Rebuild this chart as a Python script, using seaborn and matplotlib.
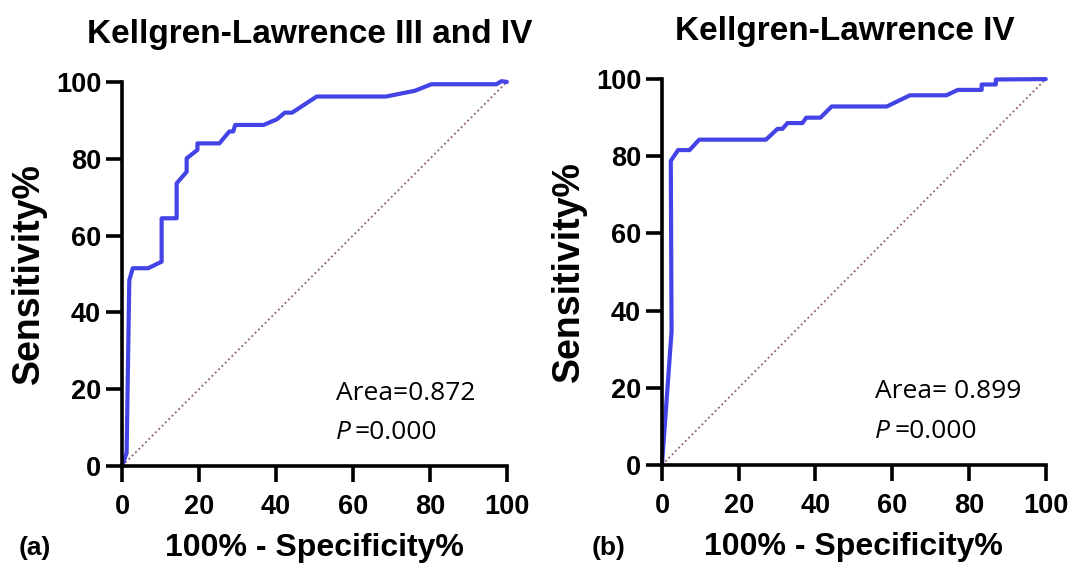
import matplotlib

matplotlib.use("Agg")

import matplotlib.pyplot as plt
import pandas as pd
import seaborn as sns

# ROC points (x = 100% - specificity, y = sensitivity)
fpr_a = [0, 1.2, 1.9, 2.8, 6.8, 10.3, 10.3, 14.2, 14.2, 16.8, 16.8, 19.6, 19.6,
         25.3, 27.9, 28.9, 29.4, 36.8, 40.3, 42.3, 44.2, 50.6, 68.6, 76.1,
         80.4, 97.3, 98.6, 100]
tpr_a = [0, 3.4, 48.4, 51.5, 51.5, 53.2, 64.5, 64.5, 73.6, 76.6, 80.1, 82.3, 84,
         84, 87.1, 87.1, 88.8, 88.8, 90.3, 92, 92, 96.2, 96.2, 97.7,
         99.4, 99.4, 100.2, 100]

fpr_b = [0, 2.5, 2.3, 4.2, 7.2, 9.7, 27.1, 30.1, 31.4, 32.7, 36.6, 37.6, 41.3,
         44.2, 58.6, 64.6, 74.1, 77.1, 83.3, 83.3, 87.0, 87.0, 100]
tpr_b = [0, 34.6, 78.8, 81.6, 81.6, 84.3, 84.3, 87.1, 87.1, 88.6, 88.6, 90, 90,
         92.9, 92.9, 95.8, 95.8, 97.2, 97.2, 98.6, 98.6, 99.9, 100]

titles = ["Kellgren-Lawrence III and IV", "Kellgren-Lawrence IV"]
areas = ["Area=0.872", "Area= 0.899"]
p_text = "=0.000"
panel_tags = ["(a)", "(b)"]
ticks = [0, 20, 40, 60, 80, 100]

LINE_BLUE = "#4343E6"
DIAG = "#8E5E72"

sns.set_style("ticks")
plt.rcParams["font.family"] = ["Liberation Sans", "DejaVu Sans"]
plt.rcParams["font.weight"] = "bold"
plt.rcParams["text.color"] = "black"
plt.rcParams["axes.labelcolor"] = "black"
plt.rcParams["xtick.color"] = "black"
plt.rcParams["ytick.color"] = "black"
plt.rcParams["axes.edgecolor"] = "black"

fig = plt.figure(figsize=(10.72, 5.69), dpi=100)
axes = [fig.add_axes([0.1138, 0.181, 0.359, 0.675]),
        fig.add_axes([0.6175, 0.183, 0.358, 0.678])]

curves = [(fpr_a, tpr_a), (fpr_b, tpr_b)]
tag_x = [0.017, 0.552]
title_x = [0.488, 0.477]
note_font = ["Open Sans", "DejaVu Sans"]

for i, ax in enumerate(axes):
    df = pd.DataFrame({"fpr": curves[i][0], "tpr": curves[i][1]})
    ax.plot([0, 100], [0, 100], linestyle=(0, (1, 1.6)), color=DIAG, linewidth=1.3)
    sns.lineplot(data=df, x="fpr", y="tpr", sort=False, estimator=None,
                 color=LINE_BLUE, linewidth=3.0, ax=ax, clip_on=False)
    ax.set_xlim(0, 100)
    ax.set_ylim(0, 100)
    ax.set_xticks(ticks)
    ax.set_yticks(ticks)
    ax.tick_params(width=2.6, length=11.5, labelsize=19.5)
    ax.tick_params(axis="x", pad=9)
    ax.tick_params(axis="y", pad=3.5)
    for lab in ax.get_xticklabels() + ax.get_yticklabels():
        lab.set_fontweight("bold")
    for side in ["left", "bottom"]:
        ax.spines[side].set_linewidth(2.6)
    sns.despine(ax=ax)
    ax.set_xlabel("100% - Specificity%", fontsize=23, fontweight="bold", labelpad=9)
    ax.set_ylabel("Sensitivity%", fontsize=27, fontweight="bold", labelpad=6)
    ax.set_title(titles[i], fontsize=24, fontweight="bold", pad=28, x=title_x[i])
    ax.text(55.5, 17.3, areas[i], fontsize=19, fontweight="normal", family=note_font)
    ax.text(55.5, 7.0, "P", fontsize=19, fontweight="normal", style="italic",
            family=note_font)
    ax.text(60.5, 7.0, p_text, fontsize=19, fontweight="normal", family=note_font)
    fig.text(tag_x[i], 0.025, panel_tags[i], fontsize=19, fontweight="bold")

fig.savefig("out.png", dpi=100)
